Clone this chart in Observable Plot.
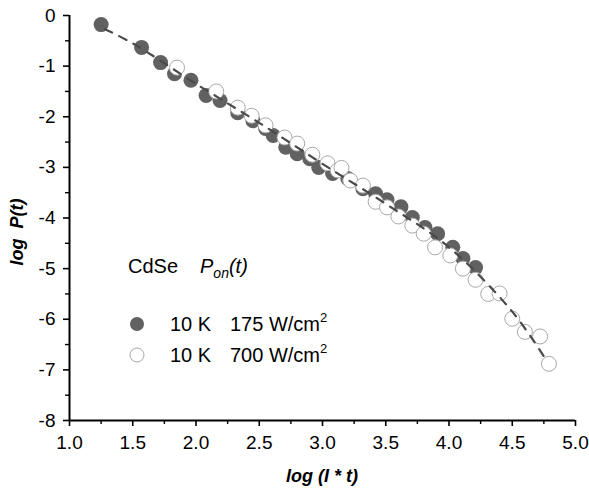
<!DOCTYPE html>
<html>
<head>
<meta charset="utf-8">
<script src="https://cdn.jsdelivr.net/npm/d3@7"></script>
<script src="https://cdn.jsdelivr.net/npm/@observablehq/plot@0.6"></script>
<style>
  body { margin: 0; background: #fff; }
  #wrap { position: relative; width: 589px; height: 491px; }
  #overlay { position: absolute; left: 0; top: 0; pointer-events: none; }
  text { font-family: "Liberation Sans", Arial, sans-serif; }
</style>
</head>
<body>
<div id="wrap"></div>
<script>
// ---- data ----
const filledX = [1.25, 1.57, 1.72, 1.83, 1.96, 2.08, 2.19, 2.33, 2.45, 2.55, 2.61, 2.71, 2.80, 2.90, 2.97, 3.08, 3.20, 3.32, 3.42, 3.51, 3.62, 3.71, 3.81, 3.91, 4.03, 4.11, 4.21];
const filledY = [-0.18, -0.63, -0.93, -1.15, -1.28, -1.58, -1.68, -1.92, -2.08, -2.23, -2.37, -2.60, -2.73, -2.83, -3.00, -3.12, -3.22, -3.42, -3.52, -3.64, -3.78, -3.99, -4.19, -4.31, -4.58, -4.80, -4.98];

const openX = [1.85, 2.16, 2.33, 2.44, 2.55, 2.70, 2.80, 2.92, 3.04, 3.12, 3.15, 3.22, 3.32, 3.42, 3.51, 3.60, 3.71, 3.80, 3.89, 4.01, 4.11, 4.21, 4.31, 4.40, 4.50, 4.60, 4.72, 4.79];
const openY = [-1.03, -1.50, -1.82, -1.98, -2.17, -2.41, -2.53, -2.75, -2.92, -3.06, -3.01, -3.26, -3.36, -3.68, -3.79, -3.97, -4.15, -4.31, -4.58, -4.74, -5.00, -5.22, -5.50, -5.49, -5.99, -6.25, -6.34, -6.88];

const fitX = [1.28, 1.5, 2.0, 2.5, 3.0, 3.5, 4.0, 4.5, 4.78];
const fitY = [-0.27, -0.55, -1.35, -2.12, -2.93, -3.72, -4.58, -5.85, -6.85];

const xMajor = [1.0, 1.5, 2.0, 2.5, 3.0, 3.5, 4.0, 4.5, 5.0];
const xMinor = [1.25, 1.75, 2.25, 2.75, 3.25, 3.75, 4.25, 4.75];
const yMajor = [0, -1, -2, -3, -4, -5, -6, -7, -8];
const yMinor = [-0.5, -1.5, -2.5, -3.5, -4.5, -5.5, -6.5, -7.5];

const xTitle = "log (I * t)";
const yTitle = "log  P(t)";
const legendRows = [
  {temp: "10 K", power: "175 W/cm", filled: true},
  {temp: "10 K", power: "700 W/cm", filled: false}
];

// ---- build tables ----
const filled = filledX.map((x, i) => ({x, y: filledY[i]}));
const open = openX.map((x, i) => ({x, y: openY[i]}));
const fit = fitX.map((x, i) => ({x, y: fitY[i]}));

const FILL = "#616161";
const OPEN_STROKE = "#a8a8a8";

const chart = Plot.plot({
  width: 589,
  height: 491,
  marginLeft: 69,
  marginRight: 14,
  marginTop: 15,
  marginBottom: 71,
  x: {domain: [1, 5]},
  y: {domain: [-8, 0]},
  style: {fontFamily: "'Liberation Sans', Arial, sans-serif", fontSize: "19px", color: "#000", background: "#fff"},
  marks: [
    Plot.dot(filled, {x: "x", y: "y", r: 7.5, fill: FILL, stroke: "none"}),
    Plot.dot(open, {x: "x", y: "y", r: 7.5, fill: "#fff", stroke: OPEN_STROKE, strokeWidth: 1}),
    Plot.line(fit, {x: "x", y: "y", stroke: "#4a4a4a", strokeWidth: 2.2, strokeDasharray: "8,8", curve: "catmull-rom"}),
    Plot.axisX({ticks: xMajor, tickSize: 6, tickPadding: 9, strokeWidth: 1.6, tickFormat: d3.format(".1f"), label: null}),
    Plot.axisX({ticks: xMinor, tickSize: 4, strokeWidth: 1.4, tickFormat: () => "", label: null}),
    Plot.axisY({ticks: yMajor, tickSize: 6, tickPadding: 8, strokeWidth: 1.6, tickFormat: d => String(d), label: null}),
    Plot.axisY({ticks: yMinor, tickSize: 4, strokeWidth: 1.4, tickFormat: () => "", label: null}),
    Plot.ruleY([-8], {stroke: "#000", strokeWidth: 2}),
    Plot.ruleX([1], {stroke: "#000", strokeWidth: 2})
  ]
});

const wrap = document.getElementById("wrap");
wrap.appendChild(chart);

// ---- legend and titles overlay ----
const ns = "http://www.w3.org/2000/svg";
const ov = d3.select(wrap).append("svg")
  .attr("id", "overlay").attr("xmlns", ns)
  .attr("width", 589).attr("height", 491);

// axis titles
ov.append("text").attr("x", 322).attr("y", 482)
  .attr("text-anchor", "middle")
  .attr("font-size", 18).attr("font-weight", "bold").attr("font-style", "italic")
  .text(xTitle);
ov.append("text").attr("transform", "translate(23,232) rotate(-90)")
  .attr("text-anchor", "middle")
  .attr("font-size", 18).attr("font-weight", "bold").attr("font-style", "italic")
  .attr("xml:space", "preserve")
  .style("white-space", "pre")
  .text(yTitle);

// legend title: CdSe  P_on(t)
const t = ov.append("text").attr("x", 128).attr("y", 273).attr("font-size", 20);
t.append("tspan").text("CdSe");
t.append("tspan").attr("x", 200).attr("font-style", "italic").text("P");
t.append("tspan").attr("font-style", "italic").attr("font-size", 14).attr("dy", 5).text("on");
t.append("tspan").attr("font-style", "italic").attr("dy", -5).text("(t)");

// legend rows
legendRows.forEach((r, i) => {
  const cy = 324 + i * 31;
  ov.append("circle").attr("cx", 137).attr("cy", cy).attr("r", 7)
    .attr("fill", r.filled ? FILL : "#fff")
    .attr("stroke", r.filled ? "none" : OPEN_STROKE).attr("stroke-width", 1);
  const tx = ov.append("text").attr("x", 170).attr("y", cy + 7).attr("font-size", 20);
  tx.append("tspan").text(r.temp);
  tx.append("tspan").attr("x", 230).text(r.power);
  tx.append("tspan").attr("font-size", 13).attr("dy", -9).text("2");
});
</script>
</body>
</html>
